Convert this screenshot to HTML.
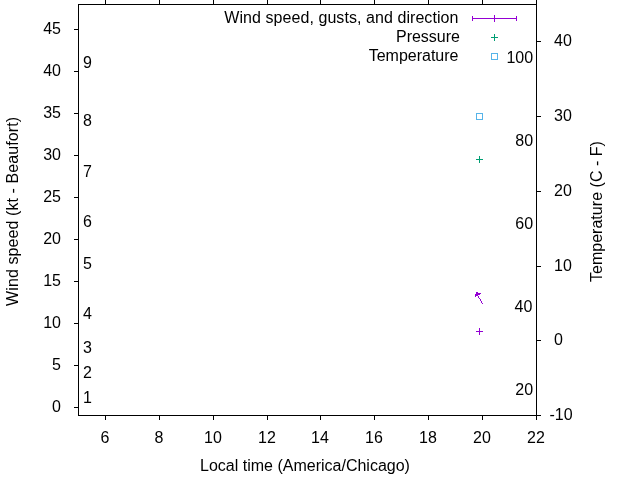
<!DOCTYPE html>
<html><head><meta charset="utf-8"><style>
html,body{margin:0;padding:0;background:#fff;width:640px;height:480px;overflow:hidden}
svg{display:block;will-change:transform}
text{font-family:"Liberation Sans",sans-serif;font-size:16px;fill:#000}
</style></head><body>
<svg width="640" height="480" viewBox="0 0 640 480">
<rect width="640" height="480" fill="#fff"/>
<g fill="#000" shape-rendering="crispEdges"><rect x="78" y="4" width="459" height="1"/><rect x="78" y="415" width="459" height="1"/><rect x="78" y="4" width="1" height="412"/><rect x="536" y="4" width="1" height="412"/></g>
<line x1="74" y1="407.5" x2="78.5" y2="407.5" stroke="#000" stroke-width="1" stroke-linecap="butt"/>
<text x="61" y="412" text-anchor="end">0</text>
<line x1="74" y1="365.5" x2="78.5" y2="365.5" stroke="#000" stroke-width="1" stroke-linecap="butt"/>
<text x="61" y="370" text-anchor="end">5</text>
<line x1="74" y1="323.5" x2="78.5" y2="323.5" stroke="#000" stroke-width="1" stroke-linecap="butt"/>
<text x="61" y="328" text-anchor="end">10</text>
<line x1="74" y1="281.5" x2="78.5" y2="281.5" stroke="#000" stroke-width="1" stroke-linecap="butt"/>
<text x="61" y="286" text-anchor="end">15</text>
<line x1="74" y1="239.5" x2="78.5" y2="239.5" stroke="#000" stroke-width="1" stroke-linecap="butt"/>
<text x="61" y="244" text-anchor="end">20</text>
<line x1="74" y1="197.5" x2="78.5" y2="197.5" stroke="#000" stroke-width="1" stroke-linecap="butt"/>
<text x="61" y="202" text-anchor="end">25</text>
<line x1="74" y1="155.5" x2="78.5" y2="155.5" stroke="#000" stroke-width="1" stroke-linecap="butt"/>
<text x="61" y="160" text-anchor="end">30</text>
<line x1="74" y1="113.5" x2="78.5" y2="113.5" stroke="#000" stroke-width="1" stroke-linecap="butt"/>
<text x="61" y="118" text-anchor="end">35</text>
<line x1="74" y1="71.5" x2="78.5" y2="71.5" stroke="#000" stroke-width="1" stroke-linecap="butt"/>
<text x="61" y="76" text-anchor="end">40</text>
<line x1="74" y1="29.5" x2="78.5" y2="29.5" stroke="#000" stroke-width="1" stroke-linecap="butt"/>
<text x="61" y="34" text-anchor="end">45</text>
<line x1="105.5" y1="415.5" x2="105.5" y2="420" stroke="#000" stroke-width="1" stroke-linecap="butt"/>
<line x1="105.5" y1="0" x2="105.5" y2="4.5" stroke="#000" stroke-width="1" stroke-linecap="butt"/>
<text x="105" y="443" text-anchor="middle">6</text>
<line x1="159.5" y1="415.5" x2="159.5" y2="420" stroke="#000" stroke-width="1" stroke-linecap="butt"/>
<line x1="159.5" y1="0" x2="159.5" y2="4.5" stroke="#000" stroke-width="1" stroke-linecap="butt"/>
<text x="159" y="443" text-anchor="middle">8</text>
<line x1="213.5" y1="415.5" x2="213.5" y2="420" stroke="#000" stroke-width="1" stroke-linecap="butt"/>
<line x1="213.5" y1="0" x2="213.5" y2="4.5" stroke="#000" stroke-width="1" stroke-linecap="butt"/>
<text x="213" y="443" text-anchor="middle">10</text>
<line x1="267.5" y1="415.5" x2="267.5" y2="420" stroke="#000" stroke-width="1" stroke-linecap="butt"/>
<line x1="267.5" y1="0" x2="267.5" y2="4.5" stroke="#000" stroke-width="1" stroke-linecap="butt"/>
<text x="267" y="443" text-anchor="middle">12</text>
<line x1="320.5" y1="415.5" x2="320.5" y2="420" stroke="#000" stroke-width="1" stroke-linecap="butt"/>
<line x1="320.5" y1="0" x2="320.5" y2="4.5" stroke="#000" stroke-width="1" stroke-linecap="butt"/>
<text x="320" y="443" text-anchor="middle">14</text>
<line x1="374.5" y1="415.5" x2="374.5" y2="420" stroke="#000" stroke-width="1" stroke-linecap="butt"/>
<line x1="374.5" y1="0" x2="374.5" y2="4.5" stroke="#000" stroke-width="1" stroke-linecap="butt"/>
<text x="374" y="443" text-anchor="middle">16</text>
<line x1="428.5" y1="415.5" x2="428.5" y2="420" stroke="#000" stroke-width="1" stroke-linecap="butt"/>
<line x1="428.5" y1="0" x2="428.5" y2="4.5" stroke="#000" stroke-width="1" stroke-linecap="butt"/>
<text x="428" y="443" text-anchor="middle">18</text>
<line x1="482.5" y1="415.5" x2="482.5" y2="420" stroke="#000" stroke-width="1" stroke-linecap="butt"/>
<line x1="482.5" y1="0" x2="482.5" y2="4.5" stroke="#000" stroke-width="1" stroke-linecap="butt"/>
<text x="482" y="443" text-anchor="middle">20</text>
<line x1="536.5" y1="415.5" x2="536.5" y2="420" stroke="#000" stroke-width="1" stroke-linecap="butt"/>
<line x1="536.5" y1="0" x2="536.5" y2="4.5" stroke="#000" stroke-width="1" stroke-linecap="butt"/>
<text x="536" y="443" text-anchor="middle">22</text>
<line x1="536.5" y1="415.5" x2="541" y2="415.5" stroke="#000" stroke-width="1" stroke-linecap="butt"/>
<text x="549.5" y="420" text-anchor="start">-10</text>
<line x1="536.5" y1="340.5" x2="541" y2="340.5" stroke="#000" stroke-width="1" stroke-linecap="butt"/>
<text x="554" y="345" text-anchor="start">0</text>
<line x1="536.5" y1="266.5" x2="541" y2="266.5" stroke="#000" stroke-width="1" stroke-linecap="butt"/>
<text x="554" y="271" text-anchor="start">10</text>
<line x1="536.5" y1="191.5" x2="541" y2="191.5" stroke="#000" stroke-width="1" stroke-linecap="butt"/>
<text x="554" y="196" text-anchor="start">20</text>
<line x1="536.5" y1="116.5" x2="541" y2="116.5" stroke="#000" stroke-width="1" stroke-linecap="butt"/>
<text x="554" y="121" text-anchor="start">30</text>
<line x1="536.5" y1="41.5" x2="541" y2="41.5" stroke="#000" stroke-width="1" stroke-linecap="butt"/>
<text x="554" y="46" text-anchor="start">40</text>
<text x="83" y="403" text-anchor="start">1</text>
<text x="83" y="378" text-anchor="start">2</text>
<text x="83" y="353" text-anchor="start">3</text>
<text x="83" y="319" text-anchor="start">4</text>
<text x="83" y="269" text-anchor="start">5</text>
<text x="83" y="227" text-anchor="start">6</text>
<text x="83" y="177" text-anchor="start">7</text>
<text x="83" y="126" text-anchor="start">8</text>
<text x="83" y="68" text-anchor="start">9</text>
<text x="533.1" y="395" text-anchor="end">20</text>
<text x="532.3" y="312" text-anchor="end">40</text>
<text x="533.1" y="229" text-anchor="end">60</text>
<text x="533.1" y="146" text-anchor="end">80</text>
<text x="533.1" y="63" text-anchor="end">100</text>
<text x="305" y="470.5" text-anchor="middle">Local time (America/Chicago)</text>
<text transform="translate(17.5,305.9) rotate(-90)" textLength="188.97" lengthAdjust="spacing">Wind speed (kt - Beaufort)</text>
<text transform="translate(601.5,282.06) rotate(-90)" textLength="140.96" lengthAdjust="spacing">Temperature (C - F)</text>
<text x="224.23" y="22.5" textLength="234.2" lengthAdjust="spacing">Wind speed, gusts, and direction</text>
<text x="460" y="41.5" text-anchor="end">Pressure</text>
<text x="458.5" y="60.5" text-anchor="end">Temperature</text>
<line x1="472" y1="18.5" x2="517" y2="18.5" stroke="#9400d3" stroke-width="1" stroke-linecap="butt"/>
<line x1="472.5" y1="16" x2="472.5" y2="21" stroke="#9400d3" stroke-width="1" stroke-linecap="butt"/>
<line x1="516.5" y1="16" x2="516.5" y2="21" stroke="#9400d3" stroke-width="1" stroke-linecap="butt"/>
<line x1="494.5" y1="15" x2="494.5" y2="22" stroke="#9400d3" stroke-width="1" stroke-linecap="butt"/>
<line x1="491" y1="37.5" x2="498" y2="37.5" stroke="#009e73" stroke-width="1" stroke-linecap="butt"/>
<line x1="494.5" y1="34" x2="494.5" y2="41" stroke="#009e73" stroke-width="1" stroke-linecap="butt"/>
<rect x="491.5" y="53.5" width="6" height="6" fill="none" stroke="#56b4e9"/>
<rect x="476.5" y="113.5" width="6" height="6" fill="none" stroke="#56b4e9"/>
<line x1="476" y1="159.5" x2="483" y2="159.5" stroke="#009e73" stroke-width="1" stroke-linecap="butt"/>
<line x1="479.5" y1="156" x2="479.5" y2="163" stroke="#009e73" stroke-width="1" stroke-linecap="butt"/>
<line x1="476" y1="331.5" x2="483" y2="331.5" stroke="#9400d3" stroke-width="1" stroke-linecap="butt"/>
<line x1="479.5" y1="328" x2="479.5" y2="335" stroke="#9400d3" stroke-width="1" stroke-linecap="butt"/>
<g fill="#9400d3" shape-rendering="crispEdges"><rect x="476" y="292" width="1" height="1"/><rect x="477" y="292" width="1" height="1"/><rect x="476" y="293" width="1" height="1"/><rect x="477" y="293" width="1" height="1"/><rect x="478" y="293" width="1" height="1"/><rect x="479" y="293" width="1" height="1"/><rect x="480" y="293" width="1" height="1"/><rect x="475" y="294" width="1" height="1"/><rect x="476" y="294" width="1" height="1"/><rect x="477" y="294" width="1" height="1"/><rect x="478" y="294" width="1" height="1"/><rect x="479" y="294" width="1" height="1"/><rect x="475" y="295" width="1" height="1"/><rect x="476" y="295" width="1" height="1"/><rect x="477" y="295" width="1" height="1"/><rect x="475" y="296" width="1" height="1"/><rect x="478" y="296" width="1" height="1"/><rect x="478" y="297" width="1" height="1"/><rect x="479" y="298" width="1" height="1"/><rect x="480" y="299" width="1" height="1"/><rect x="480" y="300" width="1" height="1"/><rect x="481" y="301" width="1" height="1"/><rect x="481" y="302" width="1" height="1"/><rect x="482" y="303" width="1" height="1"/></g>
</svg></body></html>
